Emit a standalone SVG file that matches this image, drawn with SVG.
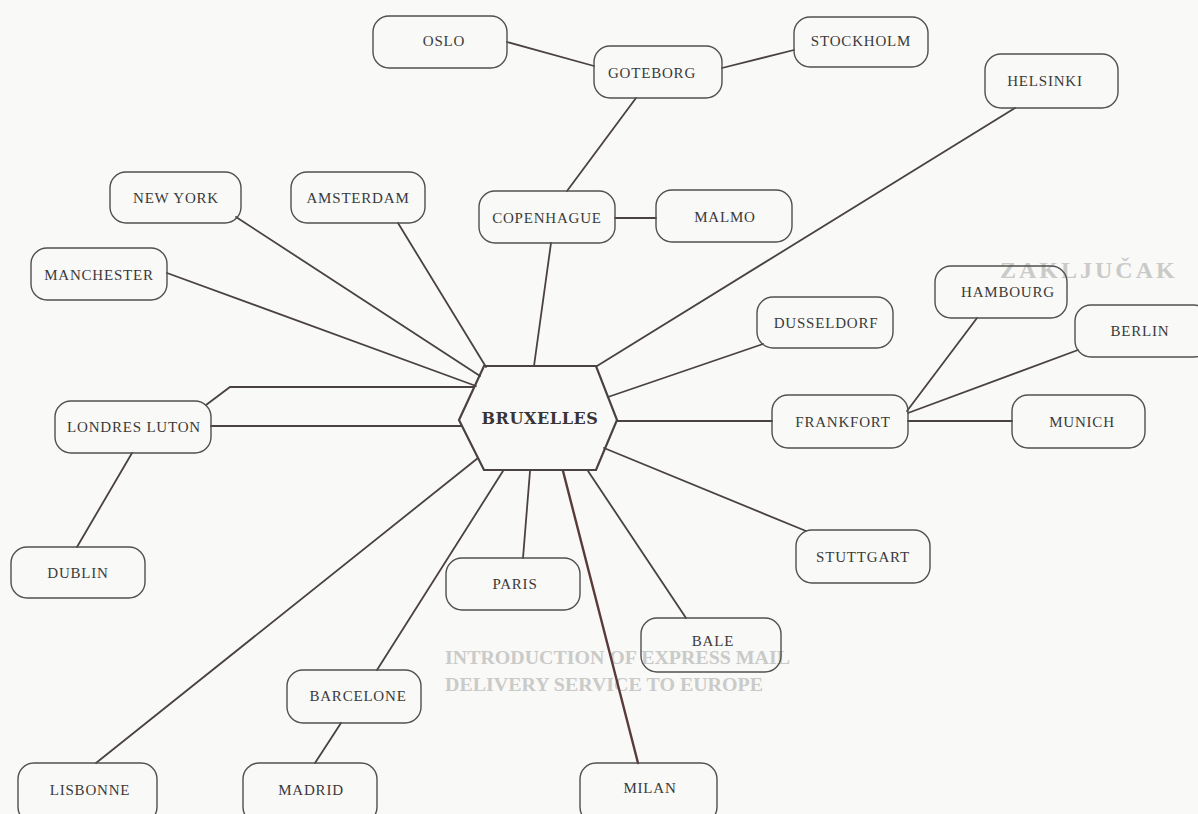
<svg xmlns="http://www.w3.org/2000/svg" width="1198" height="814" viewBox="0 0 1198 814">
  <style>
    .bg { fill: #f9f9f7; }
    .ghost { font-family: "Liberation Serif", serif; font-weight: bold; fill: #cacac8; }
    .box { fill: none; stroke: #505050; stroke-width: 1.4; }
    .lbl { font-family: "Liberation Serif", "DejaVu Serif", serif; font-size: 15px; letter-spacing: 0.8px; fill: #3a3a3a; text-anchor: middle; }
    .hub { fill: none; stroke: #4a4242; stroke-width: 2.2; stroke-linejoin: miter; }
    .hubtxt { font-family: "DejaVu Serif", "Liberation Serif", serif; font-weight: bold; font-size: 16px; letter-spacing: 0.6px; fill: #3a3434; text-anchor: middle; }
    .conn line, .conn polyline { stroke: #4a4242; stroke-width: 1.8; fill: none; stroke-linecap: round; }
    .conn .heavy { stroke: #5a3a3a; stroke-width: 2.4; }
  </style>
  <rect class="bg" x="0" y="0" width="1198" height="814"/>

  <g id="background-text">
    <text class="ghost" x="1000" y="278" font-size="24" letter-spacing="3">ZAKLJUČAK</text>
    <text class="ghost" x="445" y="664" font-size="19" textLength="345" lengthAdjust="spacingAndGlyphs">INTRODUCTION OF EXPRESS MAIL</text>
    <text class="ghost" x="445" y="691" font-size="19" textLength="318" lengthAdjust="spacingAndGlyphs">DELIVERY SERVICE TO EUROPE</text>
  </g>

  <g id="connectors" class="conn">
    <line x1="507" y1="42" x2="594" y2="66"/>
    <line x1="722" y1="68" x2="794" y2="50"/>
    <line x1="636" y1="98" x2="567" y2="191"/>
    <line x1="615" y1="218" x2="656" y2="218"/>
    <line x1="551" y1="243" x2="534" y2="366"/>
    <line x1="236" y1="217" x2="480" y2="376"/>
    <line x1="398" y1="223" x2="486" y2="367"/>
    <line x1="167" y1="273" x2="476" y2="386"/>
    <polyline points="206,405 230,387 474,387"/>
    <line x1="211" y1="426" x2="461" y2="426"/>
    <line x1="132" y1="453" x2="77" y2="547"/>
    <line x1="1015" y1="108" x2="597" y2="366"/>
    <line x1="763" y1="344" x2="608" y2="397"/>
    <line x1="617" y1="421" x2="772" y2="421"/>
    <line x1="908" y1="421" x2="1012" y2="421"/>
    <line x1="907" y1="411" x2="977" y2="318"/>
    <line x1="908" y1="413" x2="1078" y2="350"/>
    <line x1="604" y1="448" x2="806" y2="531"/>
    <line x1="588" y1="471" x2="686" y2="618"/>
    <line class="heavy" x1="563" y1="471" x2="638" y2="763"/>
    <line x1="530" y1="471" x2="523" y2="558"/>
    <line x1="503" y1="471" x2="377" y2="670"/>
    <line x1="341" y1="723" x2="315" y2="763"/>
    <line x1="478" y1="458" x2="96" y2="763"/>
  </g>

  <g id="node-bruxelles">
    <polygon class="hub" points="484,366 596,366 617,420 596,470 484,470 459,420"/>
    <text class="hubtxt" x="540" y="424">BRUXELLES</text>
  </g>

  <g id="node-oslo"><rect class="box" x="373" y="16" width="134" height="52" rx="16"/><text class="lbl" x="444" y="46">OSLO</text></g>
  <g id="node-goteborg"><rect class="box" x="594" y="46" width="128" height="52" rx="16"/><text class="lbl" x="652" y="78">GOTEBORG</text></g>
  <g id="node-stockholm"><rect class="box" x="794" y="17" width="134" height="50" rx="16"/><text class="lbl" x="861" y="46">STOCKHOLM</text></g>
  <g id="node-helsinki"><rect class="box" x="985" y="54" width="133" height="54" rx="16"/><text class="lbl" x="1045" y="86" font-size="13" fill="#555">HELSINKI</text></g>
  <g id="node-newyork"><rect class="box" x="110" y="172" width="131" height="51" rx="16"/><text class="lbl" x="176" y="203">NEW YORK</text></g>
  <g id="node-amsterdam"><rect class="box" x="291" y="172" width="134" height="51" rx="16"/><text class="lbl" x="358" y="203">AMSTERDAM</text></g>
  <g id="node-copenhague"><rect class="box" x="479" y="191" width="136" height="52" rx="16"/><text class="lbl" x="547" y="223">COPENHAGUE</text></g>
  <g id="node-malmo"><rect class="box" x="656" y="190" width="136" height="52" rx="16"/><text class="lbl" x="725" y="222">MALMO</text></g>
  <g id="node-manchester"><rect class="box" x="31" y="248" width="136" height="52" rx="16"/><text class="lbl" x="99" y="280">MANCHESTER</text></g>
  <g id="node-hambourg"><rect class="box" x="935" y="266" width="132" height="52" rx="16"/><text class="lbl" x="1008" y="297">HAMBOURG</text></g>
  <g id="node-dusseldorf"><rect class="box" x="757" y="297" width="136" height="51" rx="16"/><text class="lbl" x="826" y="328">DUSSELDORF</text></g>
  <g id="node-berlin"><rect class="box" x="1075" y="305" width="135" height="52" rx="16"/><text class="lbl" x="1140" y="336">BERLIN</text></g>
  <g id="node-londres"><rect class="box" x="55" y="401" width="156" height="52" rx="16"/><text class="lbl" x="134" y="432">LONDRES LUTON</text></g>
  <g id="node-frankfort"><rect class="box" x="772" y="395" width="136" height="53" rx="16"/><text class="lbl" x="843" y="427">FRANKFORT</text></g>
  <g id="node-munich"><rect class="box" x="1012" y="395" width="133" height="53" rx="16"/><text class="lbl" x="1082" y="427">MUNICH</text></g>
  <g id="node-dublin"><rect class="box" x="11" y="547" width="134" height="51" rx="16"/><text class="lbl" x="78" y="578">DUBLIN</text></g>
  <g id="node-paris"><rect class="box" x="446" y="558" width="134" height="52" rx="16"/><text class="lbl" x="515" y="589">PARIS</text></g>
  <g id="node-stuttgart"><rect class="box" x="796" y="530" width="134" height="53" rx="16"/><text class="lbl" x="863" y="562">STUTTGART</text></g>
  <g id="node-bale"><rect class="box" x="641" y="618" width="140" height="54" rx="16"/><text class="lbl" x="713" y="646">BALE</text></g>
  <g id="node-barcelone"><rect class="box" x="287" y="670" width="134" height="53" rx="16"/><text class="lbl" x="358" y="701">BARCELONE</text></g>
  <g id="node-lisbonne"><rect class="box" x="18" y="763" width="139" height="60" rx="16"/><text class="lbl" x="90" y="795">LISBONNE</text></g>
  <g id="node-madrid"><rect class="box" x="243" y="763" width="134" height="60" rx="16"/><text class="lbl" x="311" y="795">MADRID</text></g>
  <g id="node-milan"><rect class="box" x="580" y="763" width="137" height="60" rx="16"/><text class="lbl" x="650" y="793">MILAN</text></g>
</svg>
